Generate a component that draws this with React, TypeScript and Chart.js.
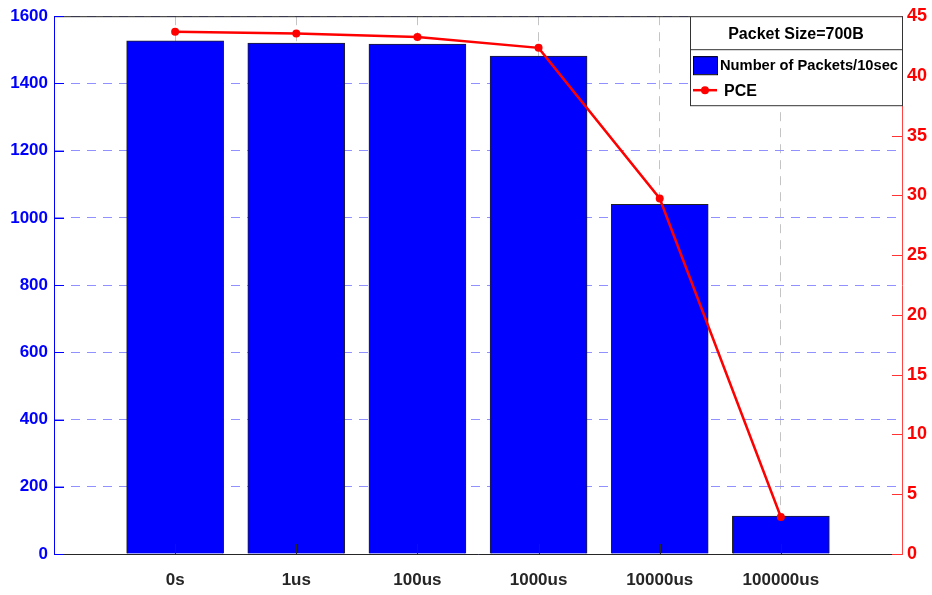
import React, { useEffect, useRef } from "react";
import { Chart, registerables } from "chart.js";

Chart.register(...registerables);

const categories = ["0s", "1us", "100us", "1000us", "10000us", "100000us"];
const packets = [1527, 1520, 1517, 1481, 1040, 113];
const pce = [43.7, 43.55, 43.25, 42.35, 29.75, 3.1];
const legendTitle = "Packet Size=700B";
const barLabel = "Number of Packets/10sec";
const lineLabel = "PCE";

const FONT = '"Liberation Sans", Arial, sans-serif';

const framePlugin = {
  id: "frame",
  afterDraw(chart: any) {
    const { ctx, chartArea: a, scales } = chart;
    ctx.save();
    ctx.strokeStyle = "#262626";
    ctx.lineWidth = 1;
    ctx.beginPath();
    ctx.moveTo(a.left, a.top + 0.5);
    ctx.lineTo(a.right, a.top + 0.5);
    ctx.stroke();
    const tl = 10;
    scales.x.ticks.forEach((t: any) => {
      const px = Math.round(scales.x.getPixelForValue(t.value)) + 0.5;
      ctx.strokeStyle = "#262626";
      ctx.beginPath();
      ctx.moveTo(px, a.bottom);
      ctx.lineTo(px, a.bottom - tl);
      ctx.stroke();
    });
    scales.y.ticks.forEach((t: any) => {
      const py = Math.round(scales.y.getPixelForValue(t.value)) + 0.5;
      ctx.strokeStyle = "#0000ff";
      ctx.beginPath();
      ctx.moveTo(a.left, py);
      ctx.lineTo(a.left + tl, py);
      ctx.stroke();
    });
    scales.y1.ticks.forEach((t: any) => {
      const py = Math.round(scales.y1.getPixelForValue(t.value)) + 0.5;
      ctx.strokeStyle = "#ff3333";
      ctx.beginPath();
      ctx.moveTo(a.right, py);
      ctx.lineTo(a.right - tl, py);
      ctx.stroke();
    });
    const W = 212, H = 89;
    const L = a.right - W, T = a.top;
    ctx.fillStyle = "#ffffff";
    ctx.fillRect(L, T, W, H);
    ctx.strokeStyle = "#333333";
    ctx.lineWidth = 1;
    ctx.strokeRect(L + 0.5, T + 0.5, W, H);
    ctx.beginPath();
    ctx.moveTo(L, T + 33.5);
    ctx.lineTo(L + W, T + 33.5);
    ctx.stroke();
    ctx.fillStyle = "#000000";
    ctx.textAlign = "center";
    ctx.textBaseline = "middle";
    ctx.font = `bold 16px ${FONT}`;
    ctx.fillText(legendTitle, L + W / 2, T + 18);
    ctx.fillStyle = "#0000ff";
    ctx.fillRect(L + 3, T + 40, 24, 18);
    ctx.strokeStyle = "#000000";
    ctx.strokeRect(L + 3.5, T + 40.5, 24, 18);
    ctx.fillStyle = "#000000";
    ctx.textAlign = "left";
    ctx.font = `bold 14.7px ${FONT}`;
    ctx.fillText(barLabel, L + 30, T + 50);
    ctx.strokeStyle = "#ff0000";
    ctx.lineWidth = 2.5;
    ctx.beginPath();
    ctx.moveTo(L + 3, T + 74);
    ctx.lineTo(L + 27, T + 74);
    ctx.stroke();
    ctx.fillStyle = "#ff0000";
    ctx.beginPath();
    ctx.arc(L + 15, T + 74, 4, 0, Math.PI * 2);
    ctx.fill();
    ctx.fillStyle = "#000000";
    ctx.font = `bold 16px ${FONT}`;
    ctx.fillText(lineLabel, L + 34, T + 75);
    ctx.restore();
  },
};

export default function App() {
  const ref = useRef<HTMLCanvasElement>(null);
  useEffect(() => {
    document.body.style.margin = "0";
    const chart = new Chart(ref.current as HTMLCanvasElement, {
      type: "bar",
      data: {
        datasets: [
          {
            type: "line",
            label: lineLabel,
            data: categories.map((_, i) => ({ x: i + 1, y: pce[i] })),
            yAxisID: "y1",
            borderColor: "#ff0000",
            backgroundColor: "#ff0000",
            borderWidth: 2.5,
            pointRadius: 4,
            pointBackgroundColor: "#ff0000",
            pointBorderWidth: 0,
            order: 1,
          } as any,
          {
            type: "bar",
            label: barLabel,
            data: categories.map((_, i) => ({ x: i + 1, y: packets[i] })),
            yAxisID: "y",
            backgroundColor: "#0000ff",
            borderColor: "#222222",
            borderWidth: 1,
            barThickness: 97,
            order: 2,
          } as any,
        ],
      },
      options: {
        animation: false,
        responsive: false,
        layout: { padding: { top: 16, left: 0, right: 0, bottom: 0 } },
        plugins: { legend: { display: false }, tooltip: { enabled: false } },
        scales: {
          x: {
            type: "linear",
            min: 0,
            max: 7,
            offset: false,
            afterBuildTicks: (s: any) => {
              s.ticks = categories.map((_, i) => ({ value: i + 1 }));
            },
            afterFit: (s: any) => {
              s.height = 41;
            },
            grid: { offset: false, color: "#c4c4c4", drawTicks: false, lineWidth: 1 },
            border: { color: "#262626", dash: [9, 7] },
            ticks: {
              color: "#262626",
              font: { family: FONT, size: 17, weight: "bold" },
              padding: 16,
              maxRotation: 0,
              autoSkip: false,
              callback: (v: any) => categories[Number(v) - 1] ?? "",
            },
          } as any,
          y: {
            type: "linear",
            position: "left",
            min: 0,
            max: 1600,
            afterFit: (s: any) => {
              s.width = 54;
            },
            grid: { color: "#9090ff", drawTicks: false },
            border: { color: "#0000ff", dash: [9, 7] },
            ticks: {
              stepSize: 200,
              color: "#0000ff",
              padding: 6,
              font: { family: FONT, size: 17, weight: "bold" },
              callback: (v: any) => String(v),
            },
          } as any,
          y1: {
            type: "linear",
            position: "right",
            min: 0,
            max: 45,
            afterFit: (s: any) => {
              s.width = 30;
            },
            grid: { drawOnChartArea: false, drawTicks: false },
            border: { color: "#ff4444" },
            ticks: {
              stepSize: 5,
              color: "#ff0000",
              padding: 5,
              font: { family: FONT, size: 18, weight: "bold" },
              callback: (v: any) => String(v),
            },
          } as any,
        },
      },
      plugins: [framePlugin],
    });
    return () => chart.destroy();
  }, []);
  return <canvas ref={ref} width={932} height={595} />;
}
